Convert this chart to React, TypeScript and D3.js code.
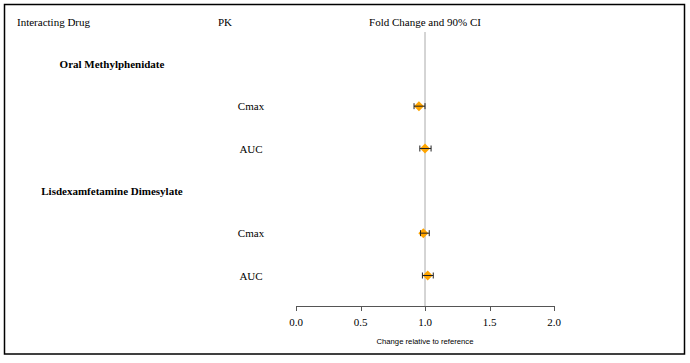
import React from "react";
import * as d3 from "d3";

const groups = ["Oral Methylphenidate", "Lisdexamfetamine Dimesylate"];
const pkParams = ["Cmax", "AUC"];
const estimates = [0.953, 1.0, 0.987, 1.021];
const lowers = [0.915, 0.96, 0.965, 0.98];
const uppers = [1.0, 1.047, 1.033, 1.064];
const xTicks = [0, 0.5, 1, 1.5, 2];
const headers = ["Interacting Drug", "PK", "Fold Change and 90% CI"];
const axisTitle = "Change relative to reference";

const W = 690;
const H = 363;

export default function App() {
  const x = d3.scaleLinear().domain([0, 2]).range([296, 554]);
  const rowKeys: string[] = ["header"];
  groups.forEach((g, gi) => {
    rowKeys.push("g" + gi);
    pkParams.forEach((p, pi) => rowKeys.push("r" + gi + "_" + pi));
  });
  const y = d3.scalePoint<string>().domain(rowKeys).range([21.5, 275.5]);
  const axisY = 306;
  const serif = "'Liberation Serif', 'Times New Roman', serif";
  const diamond = d3.symbol().type(d3.symbolSquare).size(50)() as string;

  const rows: { key: string; est: number; lo: number; hi: number; pk: string }[] = [];
  let k = 0;
  groups.forEach((g, gi) => {
    pkParams.forEach((p) => {
      rows.push({ key: "r" + gi + "_" + k % 2, est: estimates[k], lo: lowers[k], hi: uppers[k], pk: p });
      k++;
    });
  });

  return (
    <svg width={W} height={H} style={{ position: "absolute", left: 0, top: 0, background: "#fff" }}>
      <rect x={4.5} y={4.5} width={680} height={349.5} fill="#fff" stroke="#000" strokeWidth={1.5} />
      <g fontFamily={serif} fontSize={11} fill="#000">
        <text x={17} y={y("header")!} dominantBaseline="central">{headers[0]}</text>
        <text x={218} y={y("header")!} dominantBaseline="central">{headers[1]}</text>
        <text x={x(1)} y={y("header")!} dominantBaseline="central" textAnchor="middle">{headers[2]}</text>
        {groups.map((g, gi) => (
          <text key={g} x={112} y={y("g" + gi)!} dominantBaseline="central" textAnchor="middle" fontWeight="bold">{g}</text>
        ))}
        {rows.map((r) => (
          <text key={r.key + "l"} x={251} y={y(r.key)!} dominantBaseline="central" textAnchor="middle">{r.pk}</text>
        ))}
      </g>
      <line x1={x(1)} x2={x(1)} y1={32} y2={axisY} stroke="#aaa" strokeWidth={1} />
      {rows.map((r) => {
        const cy = y(r.key)!;
        return (
          <g key={r.key}>
            <path d={diamond} transform={`translate(${x(r.est)},${cy}) rotate(45)`} fill="#FFA500" />
            <line x1={x(r.lo)} x2={x(r.hi)} y1={cy} y2={cy} stroke="#222" strokeWidth={1} />
            <line x1={x(r.lo)} x2={x(r.lo)} y1={cy - 3} y2={cy + 3} stroke="#222" strokeWidth={1} />
            <line x1={x(r.hi)} x2={x(r.hi)} y1={cy - 3} y2={cy + 3} stroke="#222" strokeWidth={1} />
          </g>
        );
      })}
      <g>
        <line x1={x(0)} x2={x(2)} y1={axisY + 0.5} y2={axisY + 0.5} stroke="#555" strokeWidth={1} />
        {xTicks.map((t) => (
          <g key={t}>
            <line x1={Math.round(x(t)) + 0.5} x2={Math.round(x(t)) + 0.5} y1={axisY} y2={axisY + 5} stroke="#555" strokeWidth={1} />
            <text x={x(t)} y={322} dominantBaseline="central" textAnchor="middle" fontFamily={serif} fontSize={11} fill="#000">
              {d3.format(".1f")(t)}
            </text>
          </g>
        ))}
        <text x={x(1)} y={341} dominantBaseline="central" textAnchor="middle" fontFamily="'Liberation Sans', Arial, sans-serif" fontSize={7.7} fill="#000">
          {axisTitle}
        </text>
      </g>
    </svg>
  );
}
